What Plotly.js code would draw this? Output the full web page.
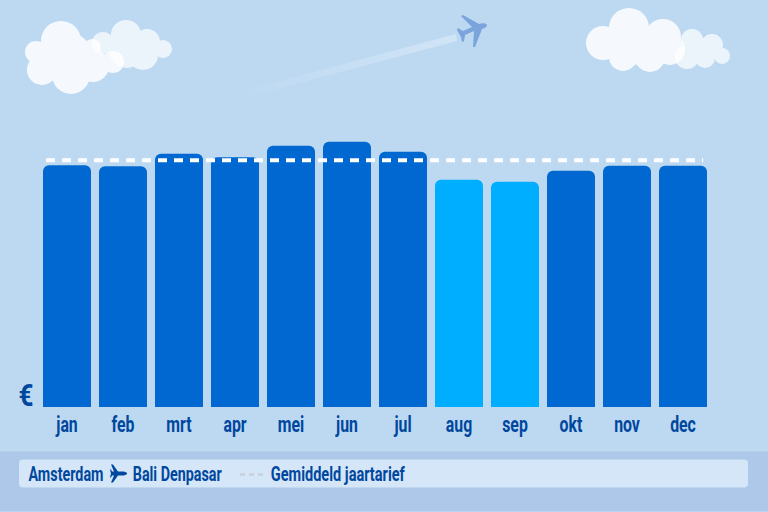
<!DOCTYPE html>
<html><head><meta charset="utf-8">
<script src="https://cdn.plot.ly/plotly-3.0.1.min.js"></script>
<style>html,body{margin:0;padding:0;background:#bdd9f2}#c{width:768px;height:512px}</style>
</head><body><div id="c"></div>
<script>
const months = ['jan','feb','mrt','apr','mei','jun','jul','aug','sep','okt','nov','dec'];
const fares = [242,241,253.5,250,261.5,265.5,255.5,227.5,225.5,236.5,241.5,241.5];
const offPeak = ['aug','sep'];
const averageFare = 247;
const originLabel = 'Amsterdam';
const destinationLabel = 'Bali Denpasar';
const averageLabel = 'Gemiddeld jaartarief';
const currencyLabel = '€';

const W=768,H=512,L=39,R=711,B=407.5;
const FONT='"Roboto","DejaVu Sans",sans-serif';
const INK='#00479e';
const px=x=>(x-L)/(R-L), py=y=>(B-y)/B;
const idx=months.map((m,i)=>i);

function circles(list){return list.map(c=>`<circle cx="${c[0]}" cy="${c[1]}" r="${c[2]}"/>`).join('');}
const cloudA=[[61,41,20],[36,52,11],[42,70,15],[71,75,19],[67,57,25],[93,66,16],[113,62,11],[92,48,9],[50,60,18]];
const cloudB=[[126,35,15],[103,43,11],[147,42,13],[143,55,15],[163,49,9],[127,50,18]];
const cloudC=[[629,28,20],[603,43,17],[663,37,18],[623,57,14],[650,57,15],[670,50,15],[640,45,20]];
const cloudD=[[692,40,11],[712,45,11],[687,57,12],[705,58,10],[722,56,8],[703,50,12]];
const art=`<svg xmlns="http://www.w3.org/2000/svg" width="${W}" height="${H}" viewBox="0 0 ${W} ${H}">
<defs><linearGradient id="t" gradientUnits="userSpaceOnUse" x1="455" y1="37" x2="240" y2="95">
<stop offset="0" stop-color="#fff" stop-opacity=".3"/><stop offset="1" stop-color="#fff" stop-opacity="0"/></linearGradient></defs>
<g fill="#fff" opacity=".72">${circles(cloudB)}</g>
<g fill="#fff" opacity=".85">${circles(cloudA)}</g>
<g fill="#fff" opacity=".72">${circles(cloudD)}</g>
<g fill="#fff" opacity=".85">${circles(cloudC)}</g>
<polygon points="456,34 457,41 236,100 232,94" fill="url(#t)"/>
<path fill="#7ba3dc" d="M487,25 C486,23 482,23 479,24 L463,15 L461,16 L472,27 L463,31 L458,28 L457,30 L461,37 L462,42 L464,41 L465,35 L474,31 L473,47 L475,47 L482,29 C485,28 487,27 487,25Z"/>
<path fill="${INK}" d="M127,474 C127,472.500 124,472 122,472 L118,472 L113,465 L111,465 L114,472 L112,472 L111,470 L110,470 L111,474 L110,478 L111,478 L112,476 L114,476 L111,483 L113,483 L118,476 L122,476 C124,476 127,475.500 127,474Z"/>
</svg>`;

const traces=[
 {type:'bar',x:idx,y:fares,
  marker:{color:months.map(m=>offPeak.includes(m)?'#00aeff':'#0068d0'),line:{width:0}},hoverinfo:'x+y'},
 {type:'scatter',mode:'lines',x:[-0.375,11.36],y:[averageFare,averageFare],
  line:{color:'#ffffff',width:4,dash:'9px,7px'},hoverinfo:'skip'}
];
const rr=(x0,y0,x1,y1,r)=>`M${px(x0+r)},${py(y0)} L${px(x1-r)},${py(y0)} Q${px(x1)},${py(y0)} ${px(x1)},${py(y0+r)} L${px(x1)},${py(y1-r)} Q${px(x1)},${py(y1)} ${px(x1-r)},${py(y1)} L${px(x0+r)},${py(y1)} Q${px(x0)},${py(y1)} ${px(x0)},${py(y1-r)} L${px(x0)},${py(y0+r)} Q${px(x0)},${py(y0)} ${px(x0+r)},${py(y0)} Z`;
const paper={xref:'paper',yref:'paper',layer:'below'};
const note=(text,x,y,size)=>({text,xref:'paper',yref:'paper',x:px(x),y:py(y),xanchor:'center',yanchor:'middle',showarrow:false,font:{family:FONT,size,color:INK,weight:700}});
const layout={
 width:W,height:H,margin:{l:L,r:W-R,t:0,b:H-B,pad:0},
 paper_bgcolor:'#bdd9f2',plot_bgcolor:'rgba(0,0,0,0)',showlegend:false,
 bargap:0.143,barcornerradius:6,
 font:{family:FONT,color:INK},
 xaxis:{type:'linear',range:[-0.5,11.5],tickmode:'array',tickvals:idx,ticktext:months,showgrid:false,zeroline:false,showline:false,
   ticks:'',ticklabelstandoff:2,tickfont:{family:FONT,size:22,color:INK,weight:700}},
 yaxis:{range:[0,B],showgrid:false,zeroline:false,showline:false,showticklabels:false,ticks:''},
 shapes:[
  {...paper,type:'rect',x0:px(0),x1:px(W),y0:py(452),y1:py(H),fillcolor:'#adc8e9',line:{width:0}},
  {...paper,type:'path',path:rr(19,460,748,488,4),fillcolor:'#d4e6f8',line:{width:0}},
  {...paper,type:'line',x0:px(240),x1:px(263),y0:py(475),y1:py(475),line:{color:'#c6d1dd',width:2.5,dash:'5px,4px'}}
 ],
 images:[{source:'data:image/svg+xml;charset=utf-8,'+encodeURIComponent(art),xref:'paper',yref:'paper',
   x:px(0),y:py(0),sizex:W/(R-L),sizey:H/B,sizing:'stretch',xanchor:'left',yanchor:'top',layer:'above'}],
 annotations:[
  note(currencyLabel,26,396,31),
  note(originLabel,65.5,474.5,21),
  note(destinationLabel,177.5,474.5,21),
  note(averageLabel,338,474.5,21)
 ]
};
function squeeze(){
  // the reference face is condensed: narrow the real text glyphs
  document.querySelectorAll('.xtick text').forEach(t=>{
    t.setAttribute('textLength',t.getComputedTextLength()*0.72);t.setAttribute('lengthAdjust','spacingAndGlyphs');});
  const widths={[originLabel]:75,[destinationLabel]:89,[averageLabel]:134,[currencyLabel]:15};
  document.querySelectorAll('.annotation-text').forEach(t=>{
    const w=widths[t.textContent];if(w){t.setAttribute('textLength',w);t.setAttribute('lengthAdjust','spacingAndGlyphs');}});
}
Plotly.newPlot('c',traces,layout,{displayModeBar:false,staticPlot:true}).then(squeeze);
</script></body></html>
